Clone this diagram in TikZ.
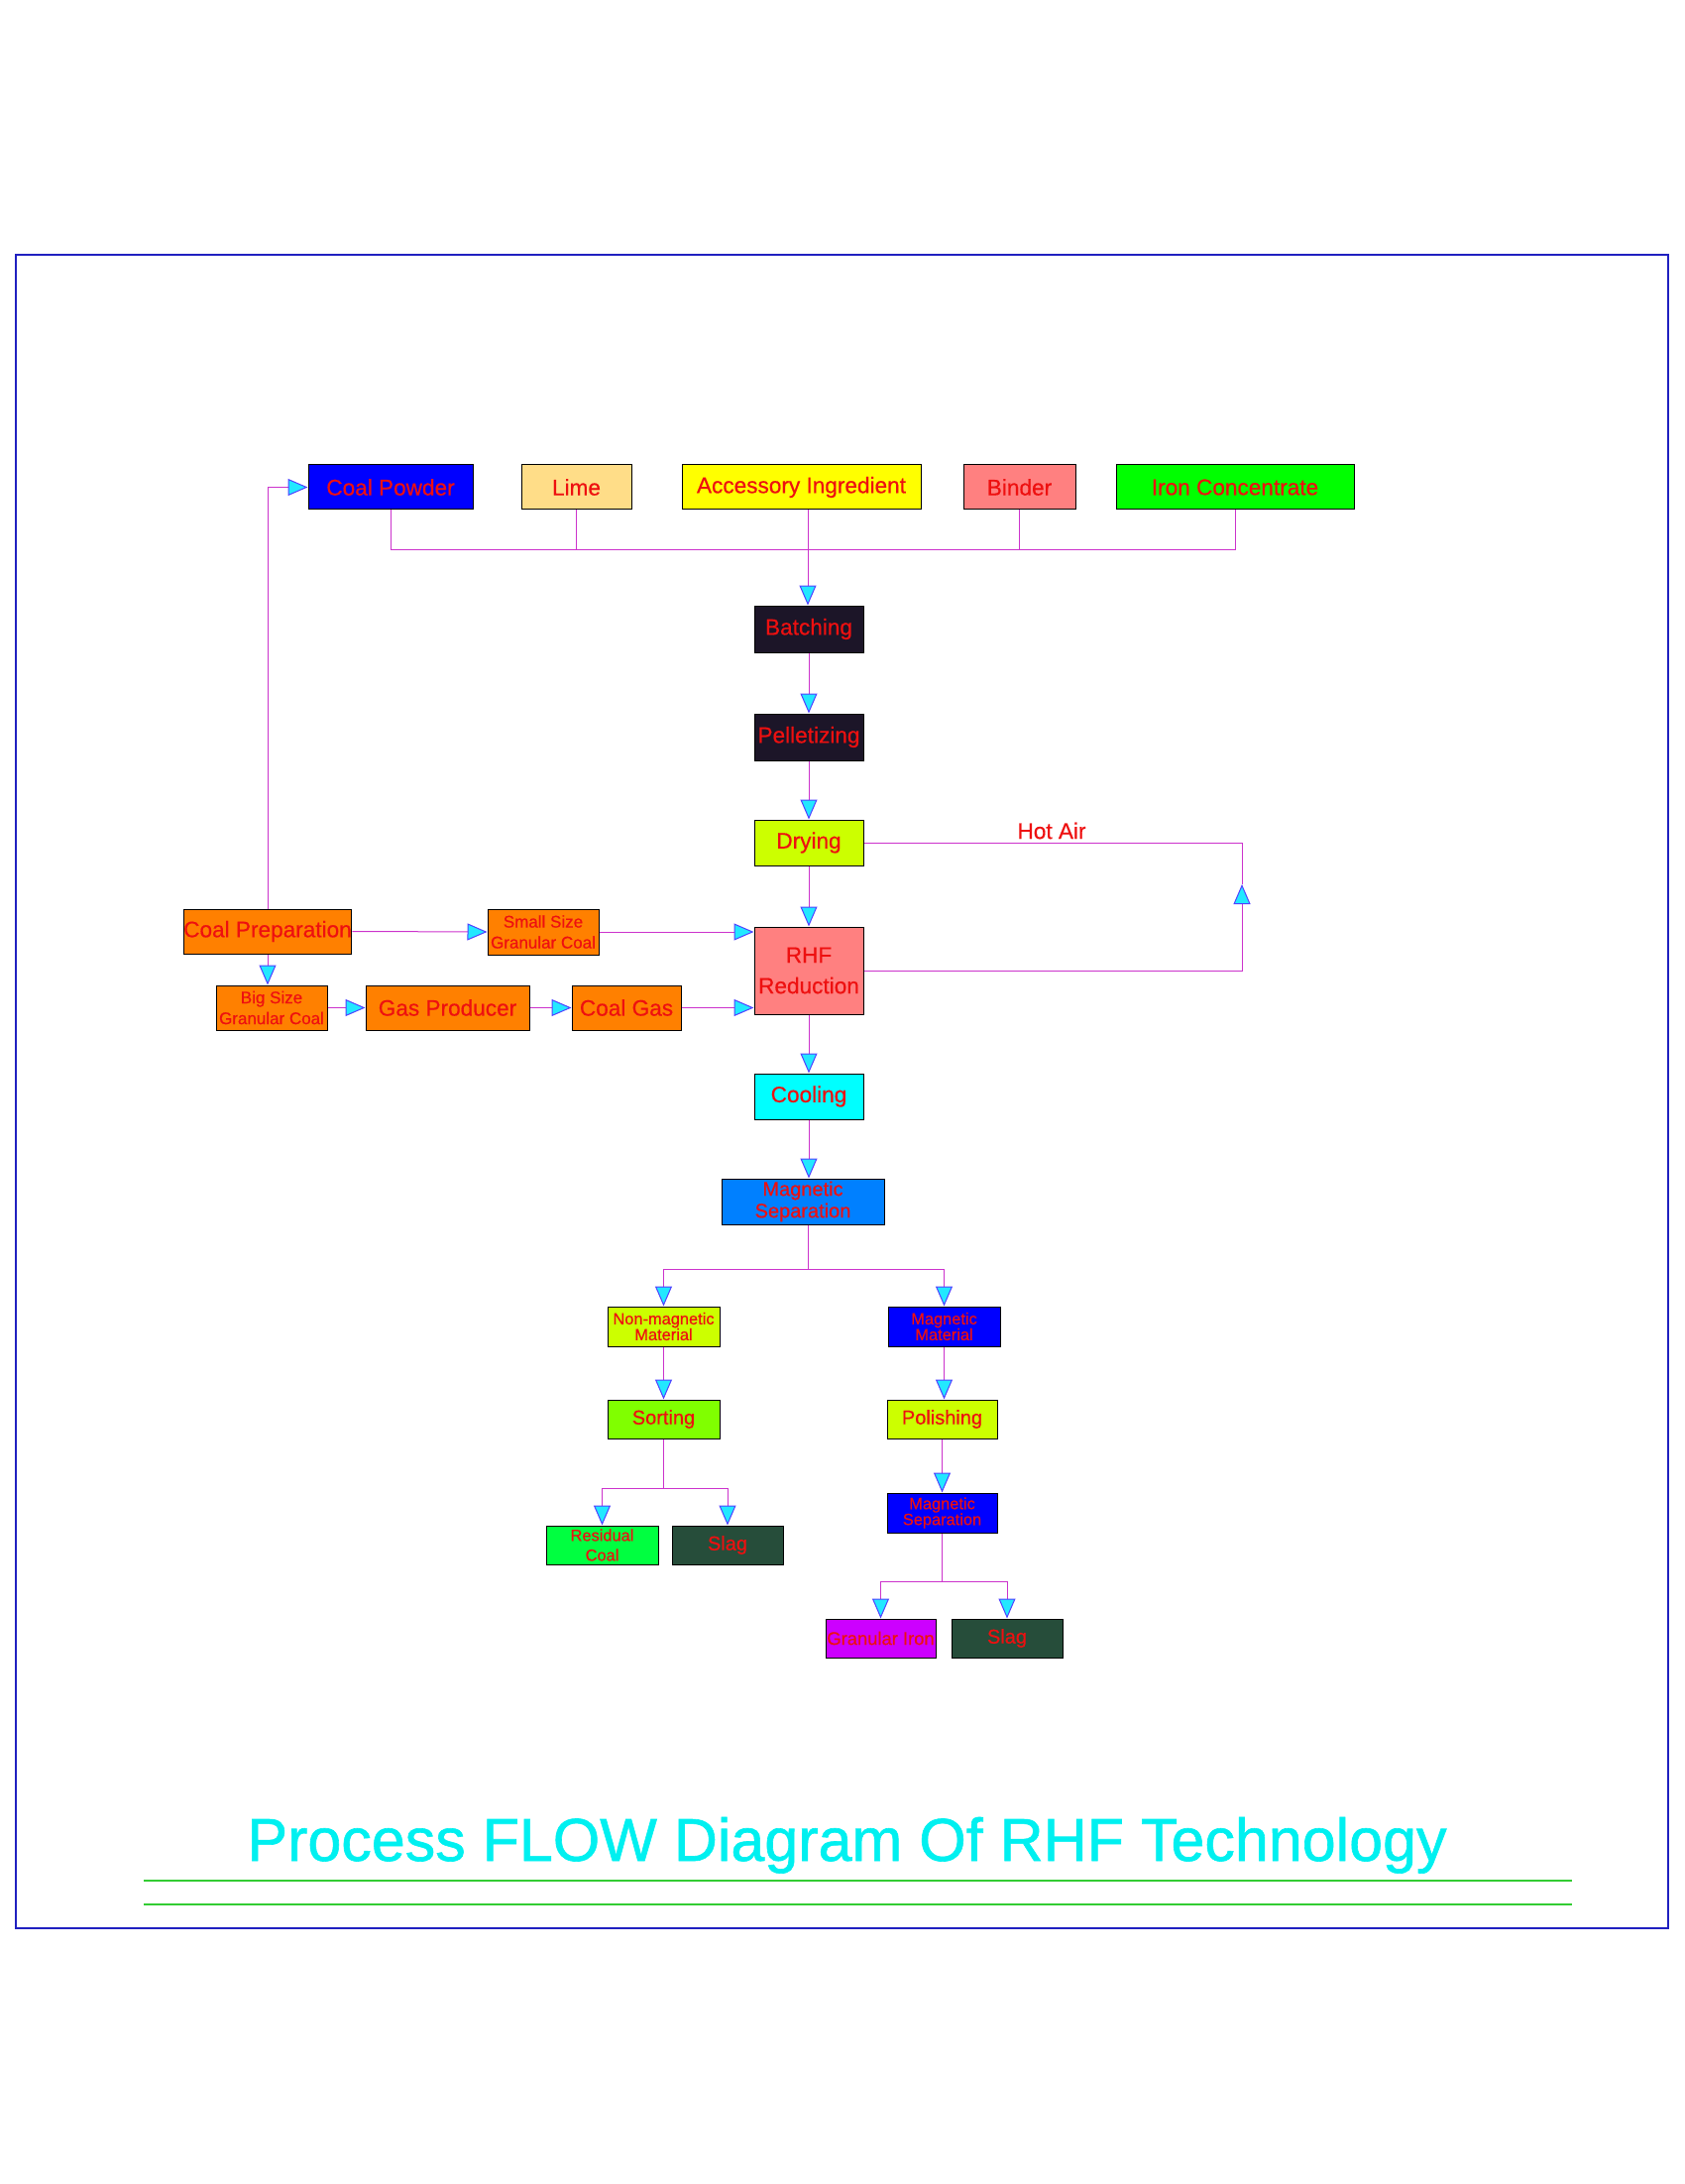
\documentclass[tikz,border=0pt]{standalone}
\usepackage{fontspec}
\setmainfont{Liberation Sans}[UprightFeatures={FakeBold=0.5}]
\newfontfamily\titlefnt{Liberation Sans}[UprightFeatures={FakeBold=1}]
\usetikzlibrary{arrows.meta}
\definecolor{txtred}{HTML}{EE1010}
\definecolor{cpblue}{HTML}{0000FF}
\definecolor{limec}{HTML}{FFDD88}
\definecolor{accy}{HTML}{FFFF00}
\definecolor{binderc}{HTML}{FF8080}
\definecolor{ironc}{HTML}{00FF00}
\definecolor{darkc}{HTML}{1C1528}
\definecolor{dryc}{HTML}{CCFF00}
\definecolor{rhfc}{HTML}{FF8080}
\definecolor{coolc}{HTML}{00FFFF}
\definecolor{msc}{HTML}{0080FF}
\definecolor{orangec}{HTML}{FF8000}
\definecolor{sortc}{HTML}{80FF00}
\definecolor{resc}{HTML}{00FF40}
\definecolor{slagc}{HTML}{264D3A}
\definecolor{granc}{HTML}{CC00FF}
\definecolor{lnmag}{HTML}{CC33CC}
\definecolor{arcyan}{HTML}{22E8FF}
\definecolor{arblue}{HTML}{5040FF}
\definecolor{framec}{HTML}{2020C0}
\definecolor{greenl}{HTML}{33CC33}
\definecolor{titlec}{HTML}{00F0F0}
\newcommand{\fntL}{\fontsize{11.3}{15.5}\selectfont}
\newcommand{\fntM}{\fontsize{10}{11}\selectfont}
\newcommand{\fntS}{\fontsize{8.5}{10.5}\selectfont}
\newcommand{\fntT}{\fontsize{8.2}{8}\selectfont}
\tikzset{
  box/.style={draw=black, line width=0.5pt, inner sep=0pt, align=center, text=txtred, font=\fntL},
  ln/.style={draw=lnmag, line width=0.5pt},
  arr/.style={ln, -{Triangle[length=10pt,width=8.5pt,fill=arcyan,color=arblue,line width=0.5pt]}},
  lbl/.style={inner sep=0pt, text=txtred, font=\fntL}
}
\begin{document}
\begin{tikzpicture}[x=0.5pt,y=-0.5pt]
\useasboundingbox (0,0) rectangle (1700,2203);
\draw[framec, line width=0.75pt] (16,257) rectangle (1683,1945);

% top row
\node[box, fill=cpblue, minimum width=83pt, minimum height=22.5pt] (coalpow) at (394,491.5) {Coal Powder};
\node[box, fill=limec, minimum width=55.5pt, minimum height=22.5pt] (lime) at (581.5,491.5) {Lime};
\node[box, fill=accy, minimum width=120.5pt, minimum height=22.5pt] (acc) at (808.5,491.5) {Accessory Ingredient};
\node[box, fill=binderc, minimum width=56.5pt, minimum height=22.5pt] (binder) at (1028.5,491.5) {Binder};
\node[box, fill=ironc, minimum width=120pt, minimum height=22.5pt] (iron) at (1246,491.5) {Iron Concentrate};

% main column
\node[box, fill=darkc, minimum width=55pt, minimum height=23.5pt] (batch) at (816,634.5) {Batching};
\node[box, fill=darkc, minimum width=55pt, minimum height=23.5pt] (pellet) at (816,743.5) {Pelletizing};
\node[box, fill=dryc, minimum width=55pt, minimum height=23pt] (drying) at (816,850) {Drying};
\node[box, fill=rhfc, minimum width=55pt, minimum height=44pt] (rhf) at (816,979) {RHF\\Reduction};
\node[box, fill=coolc, minimum width=55pt, minimum height=23pt] (cooling) at (816,1106) {Cooling};
\node[box, fill=msc, font=\fntM, minimum width=82pt, minimum height=23pt] (magsep) at (810,1212) {Magnetic\\Separation};

% left branch
\node[box, fill=orangec, minimum width=83pt, minimum height=22.5pt] (coalprep) at (270,939.5) {Coal Preparation};
\node[box, fill=orangec, font=\fntS, minimum width=56pt, minimum height=23pt] (small) at (548,940) {Small Size\\Granular Coal};
\node[box, fill=orangec, font=\fntS, minimum width=56pt, minimum height=22.5pt] (big) at (274,1016.5) {Big Size\\Granular Coal};
\node[box, fill=orangec, minimum width=82.5pt, minimum height=22.5pt] (gasprod) at (451.5,1016.5) {Gas Producer};
\node[box, fill=orangec, minimum width=55pt, minimum height=22.5pt] (coalgas) at (632,1016.5) {Coal Gas};

% bottom
\node[box, fill=dryc, font=\fntT, minimum width=56.5pt, minimum height=20pt] (nonmag) at (669.5,1338) {Non-magnetic\\Material};
\node[box, fill=cpblue, font=\fntT, minimum width=56.5pt, minimum height=20pt] (magmat) at (952.5,1338) {Magnetic\\Material};
\node[box, fill=sortc, font=\fntM, minimum width=56.5pt, minimum height=19.5pt] (sorting) at (669.5,1431.5) {Sorting};
\node[box, fill=dryc, font=\fntM, minimum width=55.5pt, minimum height=19.5pt] (polish) at (950.5,1431.5) {Polishing};
\node[box, fill=resc, font=\fontsize{8.2}{10}\selectfont, minimum width=56.5pt, minimum height=19.5pt] (resid) at (607.5,1558.5) {Residual\\Coal};
\node[box, fill=slagc, font=\fntM, minimum width=56pt, minimum height=19.5pt] (slagA) at (734,1558.5) {Slag};
\node[box, fill=cpblue, font=\fntT, minimum width=55.5pt, minimum height=20pt] (magsepB) at (950.5,1526) {Magnetic\\Separation};
\node[box, fill=granc, font=\fontsize{9.2}{10}\selectfont, minimum width=55.5pt, minimum height=19.5pt] (gran) at (888.5,1652.5) {Granular Iron};
\node[box, fill=slagc, font=\fntM, minimum width=56pt, minimum height=19.5pt] (slagB) at (1016,1652.5) {Slag};

% bus into batching
\coordinate (bus) at (815,555);
\draw[ln] (coalpow.south) -- (coalpow.south |- bus);
\draw[ln] (lime.south) -- (lime.south |- bus);
\draw[ln] (binder.south) -- (binder.south |- bus);
\draw[ln] (iron.south) -- (iron.south |- bus);
\draw[ln] (coalpow.south |- bus) -- (iron.south |- bus);
\draw[arr] (bus |- acc.south) -- (bus |- batch.north);

% main flow
\draw[arr] (batch.south) -- (pellet.north);
\draw[arr] (pellet.south) -- (drying.north);
\draw[arr] (drying.south) -- (rhf.north);
\draw[arr] (rhf.south) -- (cooling.north);
\draw[arr] (cooling.south) -- (cooling.south |- magsep.north);

% hot air loop
\coordinate (ha) at (1253,892);
\draw[arr] (rhf.east) -| (ha);
\draw[ln] (ha) |- (drying.east);
\node[lbl] (hotair) at (1061,838) {Hot Air};

% coal preparation
\draw[arr] (coalprep.north) |- (coalpow.west);
\draw[arr] (coalprep.east) -- (small.west);
\draw[arr] (small.east) -- (small.east -| rhf.west);
\draw[arr] (coalprep.south) -- (coalprep.south |- big.north);
\draw[arr] (big.east) -- (gasprod.west);
\draw[arr] (gasprod.east) -- (coalgas.west);
\draw[arr] (coalgas.east) -- (coalgas.east -| rhf.west);

% magnetic separation split
\coordinate (j1) at (815,1280);
\draw[ln] (j1 |- magsep.south) -- (j1);
\draw[arr] (j1) -| (nonmag.north);
\draw[arr] (j1) -| (magmat.north);
\draw[arr] (nonmag.south) -- (sorting.north);
\draw[arr] (magmat.south) -- (magmat.south |- polish.north);
\draw[arr] (polish.south) -- (magsepB.north);

% sorting split
\coordinate (j2) at (669.5,1501);
\draw[ln] (sorting.south) -- (j2);
\draw[arr] (j2) -| (resid.north);
\draw[arr] (j2) -| (slagA.north);

% second separation split
\coordinate (j3) at (950.5,1595);
\draw[ln] (magsepB.south) -- (j3);
\draw[arr] (j3) -| (gran.north);
\draw[arr] (j3) -| (slagB.north);

% title
\node[inner sep=0pt, anchor=base, text=titlec, font=\titlefnt\fontsize{30.5}{36}\selectfont] (title) at (854.5,1877) {Process FLOW Diagram Of RHF Technology};
\draw[greenl, line width=0.6pt] (145,1897) -- (1586,1897);
\draw[greenl, line width=0.6pt] (145,1921) -- (1586,1921);
\end{tikzpicture}
\end{document}
